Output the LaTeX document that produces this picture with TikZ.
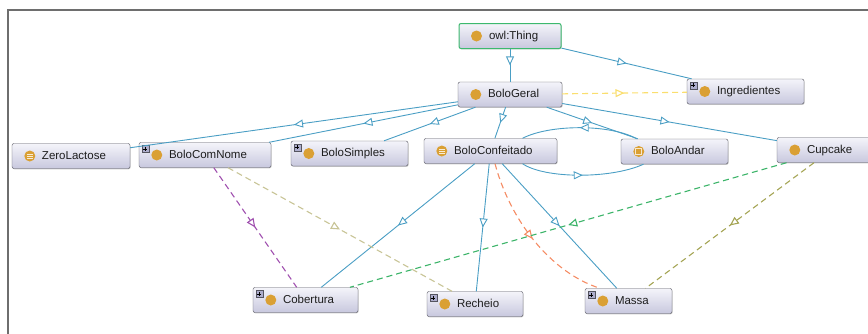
\documentclass[tikz,border=0pt]{standalone}
\usepackage{fontspec}
\setmainfont{Liberation Sans}
\usepackage{tikz}
\usetikzlibrary{
    arrows.meta, calc,
    shadows, decorations.markings
}
\definecolor{colEdge}{RGB}{74, 158, 196}
\definecolor{colYellow}{RGB}{250, 222, 110}
\definecolor{colOrange}{RGB}{245, 140, 100}
\definecolor{colPurple}{RGB}{160, 80, 175}
\definecolor{colKhaki}{RGB}{200, 196, 150}
\definecolor{colGreen}{RGB}{60, 180, 105}
\definecolor{colOlive}{RGB}{165, 165, 85}
\definecolor{colThing}{RGB}{60, 185, 110}
\definecolor{colIcon}{RGB}{218, 160, 52}
\definecolor{boxTop}{RGB}{244, 244, 250}
\definecolor{boxBot}{RGB}{200, 200, 222}
\definecolor{boxLine}{RGB}{85, 85, 95}
\definecolor{txtGray}{RGB}{30, 30, 30}
\definecolor{colFrame}{RGB}{110, 110, 110}

\begin{document}
\begin{tikzpicture}[x=1pt, y=-1pt,
    every node/.style={font=\fontsize{11.5}{13}\selectfont, text=txtGray},
    cls/.style={draw=boxLine, rounded corners=2pt, top color=boxTop, bottom color=boxBot,
        minimum height=25pt, inner xsep=0pt, inner ysep=0pt, text width=#1, align=left,
        text height=8.5pt, text depth=2.5pt, execute at begin node=\hspace*{30pt},
        drop shadow={shadow xshift=0.6pt, shadow yshift=-0.8pt, opacity=0.35, fill=black!60}},
    midtip/.style={postaction={decorate, decoration={markings,
        mark=at position 0.5 with {\arrow{Triangle[length=9pt, width=8pt, fill=white]}}}}},
    isa/.style={draw=colEdge, line width=0.9pt, midtip},
    rel/.style={draw=#1, line width=1.1pt, dash pattern=on 6pt off 4pt, midtip}]

    \clip (0,0) rectangle (868,333);

    % --- Frame ---
    \draw[colFrame, line width=1.2pt] (8,345) -- (8,10) -- (880,10);

    % --- Classes ---
    \node[cls=102pt, draw=colThing, line width=1pt] (thing) at (510,36) {owl:Thing};
    \node[cls=104pt] (geral) at (510,94.5) {BoloGeral};
    \node[cls=117pt] (ingr) at (745.5,91.5) {Ingredientes};

    \node[cls=118pt] (zero) at (71,156) {ZeroLactose};
    \node[cls=132pt] (comnome) at (205,155) {BoloComNome};
    \node[cls=117pt] (simples) at (349.5,153.5) {BoloSimples};
    \node[cls=133pt] (confeit) at (490.5,151) {BoloConfeitado};
    \node[cls=107pt] (andar) at (674.5,151.5) {BoloAndar};
    \node[cls=108pt] (cupcake) at (831,150) {Cupcake};

    \node[cls=105pt] (cobert) at (305.5,300) {Cobertura};
    \node[cls=96pt] (recheio) at (475,304) {Recheio};
    \node[cls=87pt] (massa) at (628.5,301) {Massa};

    % --- Icons ---
    \foreach \n in {thing, geral, ingr, zero, comnome, simples, confeit, andar, cupcake, cobert, recheio, massa}
        \fill[colIcon] ($(\n.west)+(18,0)$) circle (5.5pt);
    \foreach \n in {zero, confeit}
        \foreach \dy in {-2,0,2}
            \draw[white!80!colIcon, line width=0.8pt] ($(\n.west)+(15,\dy)$) -- +(6,0);
    \draw[white!75!colIcon, line width=0.8pt] ($(andar.west)+(15,-3)$) rectangle +(6,6);
    \foreach \n in {comnome, simples, ingr, cobert, recheio, massa} {
        \draw[boxLine, fill=white!80!blue!60!gray, line width=0.4pt] ($(\n.north west)+(3,3)$) rectangle +(7,7);
        \draw[black, line width=0.6pt] ($(\n.north west)+(4.5,6.5)$) -- +(4,0)
            ($(\n.north west)+(6.5,4.5)$) -- +(0,4);
    }

    % --- Subclass edges ---
    \draw[isa] (thing) -- (geral);
    \draw[isa] (thing) -- (ingr);
    \draw[isa] (geral) -- (zero);
    \draw[isa] (geral) -- (comnome);
    \draw[isa] (geral) -- (simples);
    \draw[isa] (geral) -- (confeit);
    \draw[isa] (geral) -- (andar);
    \draw[isa] (geral) -- (cupcake);
    \draw[isa] (confeit) -- (cobert);
    \draw[isa] (confeit) -- (recheio);
    \draw[isa] (confeit) -- (massa);
    \draw[isa] ([xshift=16pt]andar.north west) .. controls +(-27,-15) and +(27,-14) .. ([xshift=32pt]confeit.north);
    \draw[isa] ([xshift=32pt]confeit.south) .. controls +(22,15) and +(-33,15) .. ([xshift=-31pt]andar.south);

    % --- Property edges ---
    \draw[rel=colYellow] (geral) -- (ingr);
    \draw[rel=colOrange] ([xshift=4.5pt]confeit.south) .. controls +(15,56) and +(-50,-16) .. ([xshift=-28.5pt]massa.north);
    \draw[rel=colPurple] (comnome) -- (cobert);
    \draw[rel=colKhaki] (comnome) -- (recheio);
    \draw[rel=colGreen] (cupcake) -- (cobert);
    \draw[rel=colOlive] (cupcake) -- (massa);

\end{tikzpicture}
\end{document}
